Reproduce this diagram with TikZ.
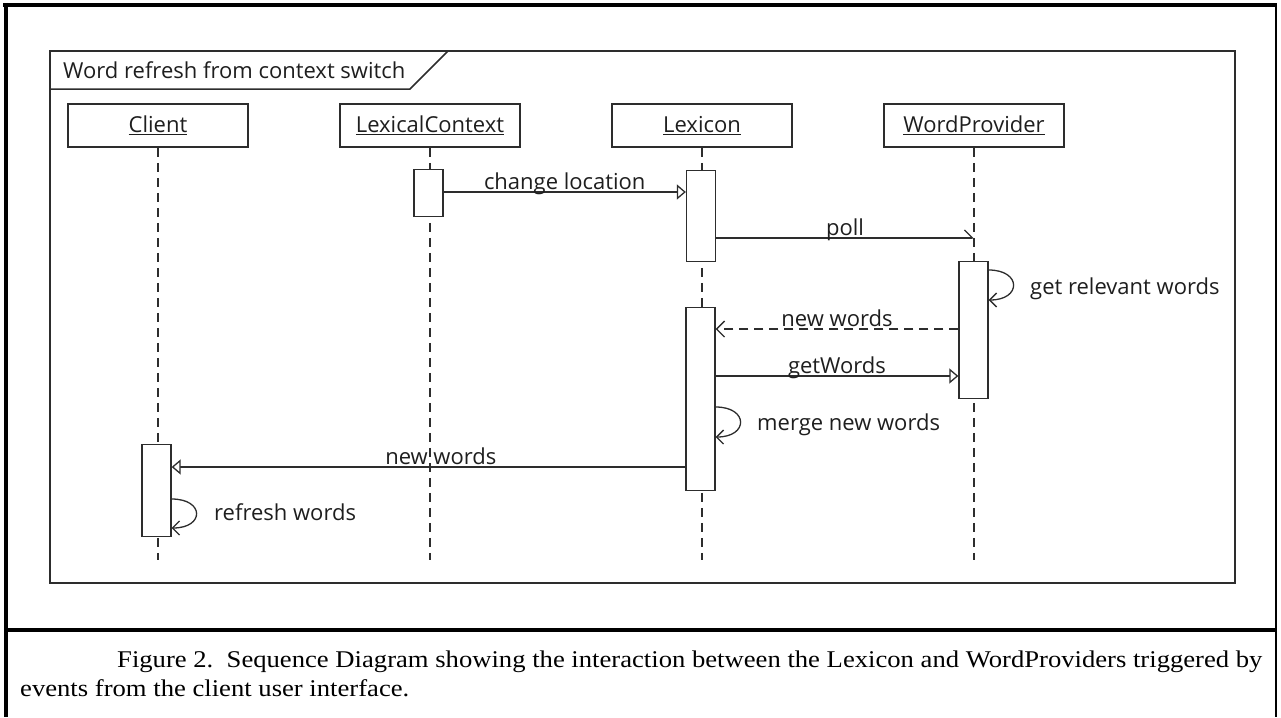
\documentclass[tikz,border=0pt]{standalone}
\usepackage{fontspec}
\setmainfont{Liberation Serif}
\newfontfamily\umlfont{Open Sans}
\newfontfamily\captionfont{Liberation Serif}[FakeStretch=1.11]
\usepackage{tikz}
\usetikzlibrary{positioning,arrows.meta}
\definecolor{umlline}{RGB}{45, 45, 45}
\definecolor{umltext}{RGB}{30, 30, 30}
\tikzset{
    uml text/.style={font=\umlfont\fontsize{22}{26}\selectfont, text=umltext},
    head box/.style={rectangle, draw=umlline, line width=1.5pt, uml text, minimum width=180pt, minimum height=43pt, inner sep=0pt},
    lifeline/.style={draw=umlline, line width=1.2pt, dash pattern=on 9pt off 6pt},
    activation/.style={rectangle, draw=umlline, fill=white, line width=1.3pt, minimum width=29pt, inner sep=0pt, anchor=north},
    call arrow/.style={draw=umlline, line width=1.3pt, -{Triangle[open, length=9pt, width=15pt, fill=white]}},
    async arrow/.style={draw=umlline, line width=1.3pt, -{Straight Barb[left, length=8pt, width=16pt]}},
    return arrow/.style={draw=umlline, line width=1.3pt, dash pattern=on 9pt off 6pt, -{Straight Barb[length=8pt, width=16pt]}},
    self arrow/.style={draw=umlline, line width=1.3pt, -{Straight Barb[length=7pt, width=14pt]}},
    msg label/.style={uml text, anchor=base, inner sep=0pt, yshift=3pt},
    caption line/.style={anchor=base west, inner sep=0pt, font=\captionfont\fontsize{24}{28}\selectfont}
}

\begin{document}
\begin{tikzpicture}[x=1pt, y=-1pt]
\useasboundingbox (0,0) rectangle (1281,717);
% Page border and caption rule
\draw[line width=4pt] (3,5) -- (1277,5);
\draw[line width=4pt] (6,3) -- (6,717);
\draw[line width=2.5pt] (1276,5) -- (1276,717);
\draw[line width=4pt] (6,630) -- (1276,630);

% Interaction frame with its name tab
\draw[umlline, line width=1.5pt] (50,51) rectangle (1235,583);
\draw[umlline, line width=1.5pt] (50,89) -- (410,89) -- (448,51);
\node[uml text, anchor=west, inner sep=0pt] (title) at (63,70) {Word refresh from context switch};

% Lifeline heads
\node[head box] (client) at (158,125.5) {\underline{Client}};
\node[head box] (context) at (430,125.5) {\underline{LexicalContext}};
\node[head box] (lexicon) at (702,125.5) {\underline{Lexicon}};
\node[head box] (provider) at (974,125.5) {\underline{WordProvider}};

% Lifelines
\coordinate (end) at (0,560);
\foreach \obj in {client, context, lexicon, provider}
    \draw[lifeline] (\obj.south) -- (\obj.south |- end);

% Activation bars
\node[activation, minimum height=47pt] (contextact) at (428.5,169) {};
\node[activation, minimum height=91pt] (lexact1) at (701,170) {};
\node[activation, minimum height=137pt] (provact) at (973.5,261) {};
\node[activation, minimum height=183pt] (lexact2) at (700.5,307) {};
\node[activation, minimum height=92pt] (clientact) at (156.5,444) {};

% Message levels
\coordinate (m1) at (0,192);
\coordinate (m2) at (0,238);
\coordinate (m3a) at (0,270);
\coordinate (m3b) at (0,300);
\coordinate (m4) at (0,329);
\coordinate (m5) at (0,376);
\coordinate (m6a) at (0,407);
\coordinate (m6b) at (0,437);
\coordinate (m7) at (0,467);
\coordinate (m8a) at (0,499);
\coordinate (m8b) at (0,528);

% Messages
\draw[call arrow] (contextact.east |- m1) -- node[msg label] {change location} (lexact1.west |- m1);
\draw[async arrow] (lexact1.east |- m2) -- node[msg label] {poll} (provider.south |- m2);
\draw[self arrow] (provact.east |- m3a) .. controls +(33,0) and +(33,0) .. (provact.east |- m3b);
\node[uml text, anchor=base west, inner sep=0pt] (relevant) at (1030,294) {get relevant words};
\draw[return arrow] (provact.west |- m4) -- node[msg label] {new words} (lexact2.east |- m4);
\draw[call arrow] (lexact2.east |- m5) -- node[msg label] {getWords} (provact.west |- m5);
\draw[self arrow] (lexact2.east |- m6a) .. controls +(33,0) and +(33,0) .. (lexact2.east |- m6b);
\node[uml text, anchor=base west, inner sep=0pt] (merge) at (757,430) {merge new words};
\draw[call arrow] (lexact2.west |- m7) -- node[msg label, pos=0.476] {new words} (clientact.east |- m7);
\draw[self arrow] (clientact.east |- m8a) .. controls +(33,0) and +(33,0) .. (clientact.east |- m8b);
\node[uml text, anchor=base west, inner sep=0pt] (refresh) at (214,520) {refresh words};

% Caption
\node[caption line] (caption1) at (117,667)
    {Figure 2.\ \ Sequence Diagram showing the interaction between the Lexicon and WordProviders triggered by};
\node[caption line] (caption2) at (20,696)
    {events from the client user interface.};
\end{tikzpicture}
\end{document}
